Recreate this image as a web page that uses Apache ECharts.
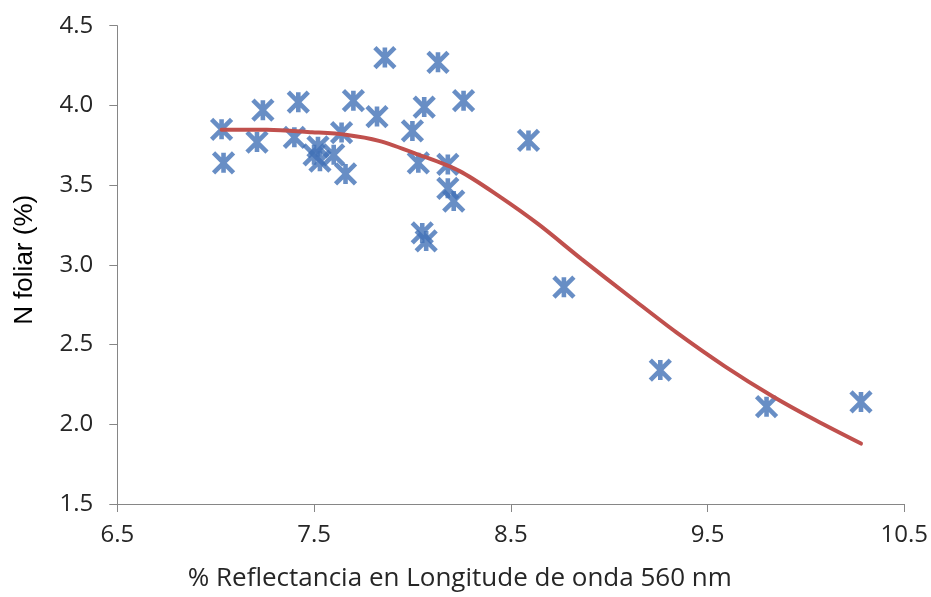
<!DOCTYPE html>
<html>
<head>
<meta charset="utf-8">
<script src="https://cdn.jsdelivr.net/npm/echarts@6/dist/echarts.min.js"></script>
<style>
  html, body { margin: 0; padding: 0; background: #ffffff; }
  #chart { width: 931px; height: 597px; }
</style>
</head>
<body>
<div id="chart"></div>
<script>
// Reflectance at 560 nm (%) and leaf nitrogen (%) for each sample
const reflectance = [
  7.03, 7.04, 7.24, 7.21, 7.42, 7.40, 7.52, 7.50, 7.53, 7.64,
  7.60, 7.66, 7.70, 7.82, 7.86, 8.00, 8.06, 8.13, 8.03, 8.26,
  8.18, 8.18, 8.21, 8.05, 8.07, 8.59, 8.77, 9.26, 9.80, 10.28
];
const nFoliar = [
  3.85, 3.64, 3.97, 3.77, 4.02, 3.80, 3.74, 3.69, 3.65, 3.83,
  3.69, 3.57, 4.03, 3.93, 4.30, 3.84, 3.99, 4.27, 3.64, 4.03,
  3.63, 3.48, 3.40, 3.20, 3.15, 3.78, 2.86, 2.34, 2.11, 2.14
];

// Fitted trend curve
const trendX = [7.03, 7.26, 7.49, 7.66, 7.83, 8.03, 8.24, 8.44, 8.64, 8.86, 9.12, 9.34, 9.59, 9.83, 10.05, 10.28];
const trendY = [3.848, 3.848, 3.832, 3.816, 3.778, 3.692, 3.588, 3.431, 3.255, 3.036, 2.786, 2.578, 2.362, 2.176, 2.025, 1.879];

// Axis ticks
const xTicks = [6.5, 7.5, 8.5, 9.5, 10.5];
const yTicks = [1.5, 2.0, 2.5, 3.0, 3.5, 4.0, 4.5];

const xTitle = '% Reflectancia en Longitude de onda 560 nm';
const yTitle = 'N foliar (%)';

const scatterData = reflectance.map((x, i) => [x, nFoliar[i]]);
const trendData = trendX.map((x, i) => [x, trendY[i]]);

const axisLineColor = '#868686';
const labelFont = {
  fontFamily: '"Open Sans", sans-serif',
  fontSize: 24,
  color: '#262626'
};

const chart = echarts.init(document.getElementById('chart'), null, { renderer: 'canvas' });
chart.setOption({
  animation: false,
  backgroundColor: '#ffffff',
  grid: { left: 117.3, right: 25.5, top: 25.7, bottom: 91.3, containLabel: false },
  xAxis: {
    type: 'value',
    min: 6.5,
    max: 10.5,
    splitLine: { show: false },
    axisLine: { show: true, onZero: false, lineStyle: { color: axisLineColor, width: 1 } },
    axisTick: { show: true, inside: false, length: 8, lineStyle: { color: axisLineColor }, customValues: xTicks },
    axisLabel: {
      customValues: xTicks,
      margin: 19,
      formatter: v => v.toFixed(1),
      ...labelFont
    },
    name: xTitle,
    nameLocation: 'middle',
    nameGap: 62,
    nameTextStyle: { ...labelFont, fontSize: 26, padding: [0, 102, 0, 0] }
  },
  yAxis: {
    type: 'value',
    min: 1.5,
    max: 4.5,
    interval: 0.5,
    splitLine: { show: false },
    axisLine: { show: true, onZero: false, lineStyle: { color: axisLineColor, width: 1 } },
    axisTick: { show: true, inside: false, length: 8, lineStyle: { color: axisLineColor }, customValues: yTicks },
    axisLabel: {
      customValues: yTicks,
      margin: 24,
      formatter: v => v.toFixed(1),
      ...labelFont
    },
    name: yTitle,
    nameLocation: 'middle',
    nameGap: 79,
    nameRotate: 90,
    nameTextStyle: {
      fontFamily: '"Liberation Sans", Arial, sans-serif',
      fontSize: 26,
      color: '#000000',
      padding: [0, 0, 0, 10]
    }
  },
  series: [
    {
      name: 'N foliar',
      type: 'scatter',
      data: scatterData,
      symbol: 'path://M0,0L20,20M20,0L0,20M10,0L10,20',
      symbolSize: [20, 20],
      itemStyle: { color: 'rgba(0,0,0,0)', borderColor: '#4272b6', borderWidth: 4.6 },
      z: 2
    },
    {
      name: 'Tendencia',
      type: 'line',
      data: trendData,
      smooth: 0.3,
      showSymbol: false,
      symbol: 'none',
      lineStyle: { color: '#c0504d', width: 4, cap: 'round' },
      z: 3
    }
  ]
});
</script>
</body>
</html>
